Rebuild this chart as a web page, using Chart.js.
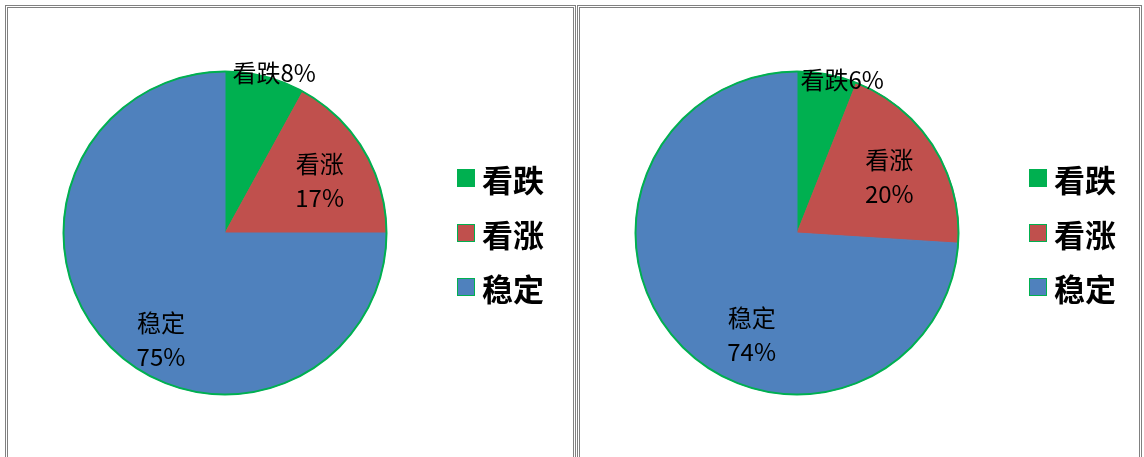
<!DOCTYPE html>
<html>
<head>
<meta charset="utf-8">
<script src="https://cdn.jsdelivr.net/npm/chart.js@4/dist/chart.umd.min.js"></script>
<style>
  body { margin: 0; background: #fff; width: 1144px; height: 457px; overflow: hidden; position: relative; }
  .panel { position: absolute; top: 5px; height: 470px; box-sizing: border-box; border: 3px double #808080; }
  canvas { position: absolute; top: 0; }
  .legend { position: absolute; font-family: "Noto Sans CJK SC", sans-serif; font-weight: bold; font-size: 31px; color: #000; }
  .legend .row { position: absolute; left: 0; display: flex; align-items: center; height: 40px; white-space: nowrap; }
  .legend .sw { width: 16px; height: 16px; border: 1.5px solid #00B050; margin-right: 7px; }
</style>
</head>
<body>
<div class="panel" style="left:5px; width:571px;"></div>
<div class="panel" style="left:577px; width:565px;"></div>
<canvas id="pieA" width="575" height="457" style="left:0px"></canvas>
<canvas id="pieB" width="567" height="457" style="left:577px"></canvas>
<div class="legend" id="legA" style="left:457px; top:0px;"></div>
<div class="legend" id="legB" style="left:1029px; top:0px;"></div>
<script>
// categories and values (percent)
const categories = ['看跌', '看涨', '稳定'];
const valuesA = [8, 17, 75];
const valuesB = [6, 20, 74];
const sliceColors = ['#00B050', '#C0504D', '#4F81BD'];
const outlineColor = '#00B050';

// label placement: [radius fraction, angle in degrees clockwise from top, single line?]
const labelPlaceA = [[1.04, 17, true], [0.67, 61, false], [0.77, 211, false]];
const labelPlaceB = [[0.99, 16.4, true], [0.67, 58.5, false], [0.69, 204, false]];

const legendRowsY = [178, 233, 287];

const outlinePlugin = {
  id: 'outline',
  afterDatasetsDraw(chart) {
    const arc = chart.getDatasetMeta(0).data[0];
    if (!arc) return;
    const ctx = chart.ctx;
    ctx.save();
    ctx.beginPath();
    ctx.arc(arc.x, arc.y, arc.outerRadius, 0, Math.PI * 2);
    ctx.strokeStyle = outlineColor;
    ctx.lineWidth = 2;
    ctx.stroke();
    ctx.restore();
  }
};

const sliceLabels = {
  id: 'sliceLabels',
  afterDraw(chart, args, opts) {
    const ctx = chart.ctx;
    const meta = chart.getDatasetMeta(0);
    const vals = chart.data.datasets[0].data;
    ctx.save();
    ctx.fillStyle = '#000';
    ctx.textAlign = 'center';
    ctx.textBaseline = 'middle';
    ctx.font = '24px "Noto Sans CJK SC", sans-serif';
    meta.data.forEach((arc, i) => {
      const p = opts.place[i];
      const th = p[1] * Math.PI / 180;
      const r = p[0] * arc.outerRadius;
      const x = arc.x + r * Math.sin(th);
      const y = arc.y - r * Math.cos(th);
      const name = chart.data.labels[i];
      const pct = vals[i] + '%';
      if (p[2]) {
        ctx.fillText(name + pct, x, y);
      } else {
        ctx.fillText(name, x, y - 17);
        ctx.fillText(pct, x, y + 17);
      }
    });
    ctx.restore();
  }
};

function makePie(id, values, place, pad) {
  return new Chart(document.getElementById(id), {
    type: 'pie',
    data: {
      labels: categories,
      datasets: [{
        data: values,
        backgroundColor: sliceColors,
        borderColor: sliceColors,
        borderWidth: 1
      }]
    },
    options: {
      responsive: false,
      animation: false,
      layout: { padding: pad },
      plugins: {
        legend: { display: false },
        tooltip: { enabled: false },
        sliceLabels: { place: place }
      }
    },
    plugins: [outlinePlugin, sliceLabels]
  });
}

function makeLegend(id) {
  const el = document.getElementById(id);
  categories.forEach((c, i) => {
    const row = document.createElement('div');
    row.className = 'row';
    row.style.top = (legendRowsY[i] - 20) + 'px';
    const sw = document.createElement('div');
    sw.className = 'sw';
    sw.style.background = sliceColors[i];
    const tx = document.createElement('span');
    tx.textContent = c;
    row.appendChild(sw);
    row.appendChild(tx);
    el.appendChild(row);
  });
}

makePie('pieA', valuesA, labelPlaceA, { left: 63, top: 71, right: 188, bottom: 62 });
makePie('pieB', valuesB, labelPlaceB, { left: 58, top: 71, right: 185, bottom: 62 });
makeLegend('legA');
makeLegend('legB');
</script>
</body>
</html>
